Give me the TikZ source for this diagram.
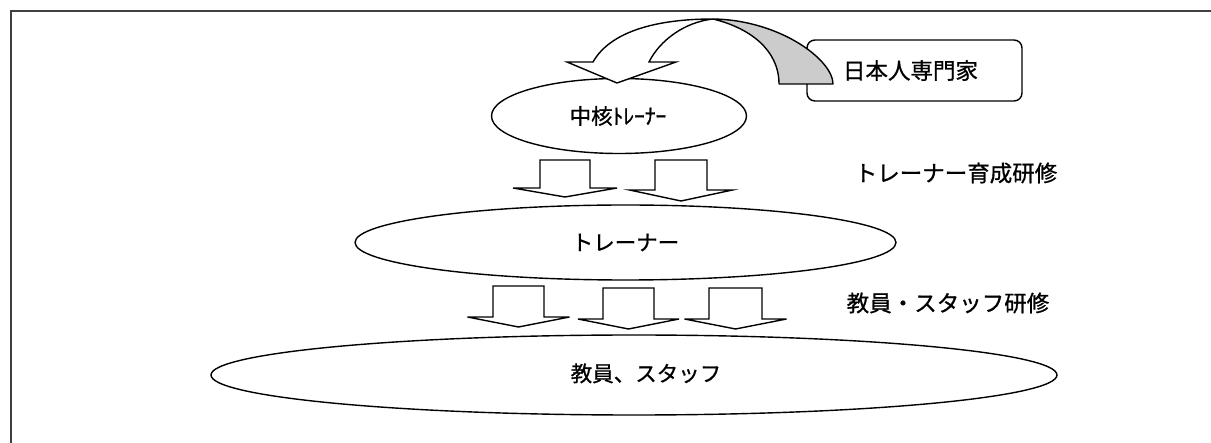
\documentclass[tikz,border=0pt]{standalone}
\usepackage{fontspec}
\setmainfont{Noto Sans CJK JP}[RawFeature={embolden=0.8}]
\usetikzlibrary{shapes.geometric}
\newcommand\blockdown[6]{% cx, top, base, tip, half shaft, half head
  \draw[blockarr] ({#1-#5},#2) -- ({#1+#5},#2) -- ({#1+#5},#3) -- ({#1+#6},#3)
    -- (#1,#4) -- ({#1-#6},#3) -- ({#1-#5},#3) -- cycle;}
\begin{document}
\begin{tikzpicture}[x=1pt,y=-1pt,
  line width=1.4pt,
  frameline/.style={draw=black!75, line width=2pt},
  oval/.style={ellipse, draw=black, fill=white, inner sep=0pt, font=\fontsize{21.5}{24}\selectfont},
  lbl/.style={font=\fontsize{22.5}{24}\selectfont, inner sep=0pt},
  blockarr/.style={draw=black, fill=white, line join=miter},
  expert/.style={draw=black, fill=white, rounded corners=8pt, minimum width=215pt, minimum height=61pt, inner sep=0pt, font=\fontsize{22.5}{24}\selectfont}
]
\useasboundingbox (0,0) rectangle (1211,443);
\fill[white] (0,0) rectangle (1211,443);
% frame (top and left edges)
\draw[frameline] (1211,11) -- (11,11) -- (11,443);

% ellipses
\node[oval, minimum width=255pt, minimum height=75pt] (core) at (619,116) {\hspace*{-2pt}\raisebox{-1pt}{中核ﾄﾚｰﾅｰ}};
\node[oval, minimum width=541pt, minimum height=75pt] (trainer) at (625.5,242.5) {\raisebox{-6pt}{トレーナー}};
\node[oval, minimum width=846pt, minimum height=80pt] (staff) at (634,375) {\hspace*{24pt}\raisebox{5pt}{教員、スタッフ}};

% expert box
\node[expert] (jp) at (914.5,70.5) {\hspace*{-8pt}日本人専門家};

% curved arrow from expert to core trainers
\filldraw[fill=black!20, draw=black, line join=round]
  (713,19) .. controls (780,20) and (833,60) .. (833,84) -- (779,84)
  .. controls (779,50) and (750,28) .. (713,19) -- cycle;
\filldraw[fill=white, draw=black, line join=miter]
  (567,62) -- (593,62) .. controls (610,32) and (655,19) .. (713,19)
  .. controls (685,22) and (660,40) .. (649,62) -- (676,62) -- (617,83) -- cycle;

% block arrows row 1
\blockdown{565}{160}{188}{197}{25}{52}
\blockdown{681}{160}{190}{201}{26}{51.5}
% block arrows row 2
\blockdown{518.5}{286}{317}{327}{25.5}{51}
\blockdown{628.5}{288}{319}{329}{25.5}{50.5}
\blockdown{735.5}{288}{319}{329}{26.5}{51}

% labels
\node[lbl] (l1) at (956,173) {トレーナー育成研修};
\node[lbl] (l2) at (948,303) {教員・スタッフ研修};
\end{tikzpicture}
\end{document}
